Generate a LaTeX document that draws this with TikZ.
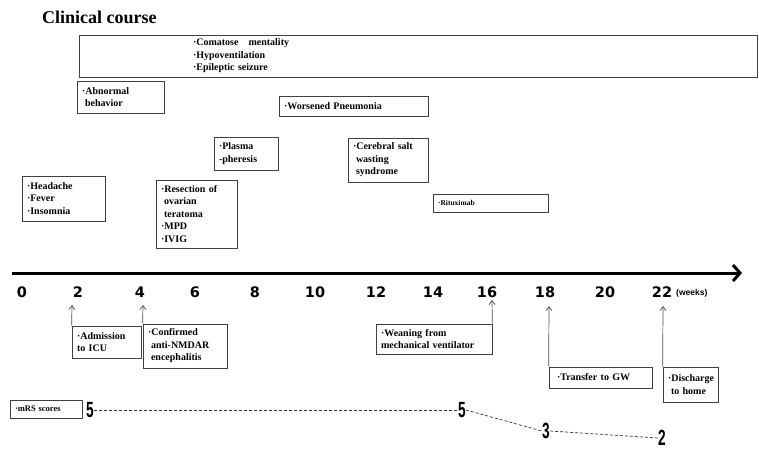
\documentclass[tikz,border=0pt]{standalone}
\usepackage{fontspec}
\usepackage{graphicx}
\setmainfont{Liberation Serif}
\newfontfamily\numfont{DejaVu Sans}
\newfontfamily\arialfont{Liberation Sans}
\usetikzlibrary{arrows.meta}
\tikzset{
  box/.style={draw, line width=0.7pt, draw=black!75, inner xsep=5pt, inner ysep=0pt, align=left,
    font=\bfseries\fontsize{10}{12.5}\selectfont},
  tick/.style={font=\numfont\bfseries\fontsize{14.5}{15}\selectfont, inner sep=0pt},
  mrs/.style={font=\arialfont\bfseries\fontsize{22}{22}\selectfont, inner sep=0pt},
  up/.style={draw=black!70, line width=0.7pt, -{Straight Barb[length=4pt,width=6pt]}},
  mline/.style={densely dashed, line width=0.7pt, draw=black!80},
}
\begin{document}
\begin{tikzpicture}[x=1pt,y=-1pt]
\useasboundingbox (0,0) rectangle (759,451);
\node[anchor=west, inner sep=0pt, font=\bfseries\fontsize{18}{20}\selectfont] (title) at (42,17) {Clinical course};

% boxes above axis
\node[box, minimum width=678, minimum height=42, text width=450, inner xsep=114pt] (sym) at (418,56)
  {·Comatose\ \ \ mentality\\·Hypoventilation\\·Epileptic seizure};
\node[box, minimum width=87, minimum height=32, text width=77] (abn) at (120.5,97)
  {·Abnormal\\\hspace*{3pt}behavior};
\node[box, minimum width=149, minimum height=20, text width=139] (pneu) at (353.5,106)
  {·Worsened Pneumonia};
\node[box, minimum width=64, minimum height=33, text width=54] (plas) at (246,153.5)
  {·Plasma\\-pheresis};
\node[box, minimum width=83, minimum height=45, text width=73] (head) at (63.5,198.5)
  {·Headache\\·Fever\\·Insomnia};
\node[box, minimum width=81, minimum height=68, text width=71] (resec) at (196.5,214)
  {·Resection of\\\hspace*{3pt}ovarian\\\hspace*{3pt}teratoma\\·MPD\\·IVIG};
\node[box, minimum width=80, minimum height=44, text width=70] (csw) at (388,160)
  {·Cerebral salt\\\hspace*{3pt}wasting\\\hspace*{3pt}syndrome};
\node[box, minimum width=115, minimum height=18, text width=105, font=\bfseries\fontsize{7.5}{8}\selectfont] (ritu) at (490.5,203)
  {·Rituximab};

% axis
\coordinate (ax0) at (12,273);
\coordinate (ax1) at (742,273);
\draw[line width=3pt, -{Straight Barb[length=7pt,width=16pt,line width=3pt]}] (ax0) -- (ax1);

\node[tick] (t0) at (22,292) {0};
\node[tick] (t2) at (78,292) {2};
\node[tick] (t4) at (140,292) {4};
\node[tick] (t6) at (195,292) {6};
\node[tick] (t8) at (255,292) {8};
\node[tick] (t10) at (315,292) {10};
\node[tick] (t12) at (376,292) {12};
\node[tick] (t14) at (433,292) {14};
\node[tick] (t16) at (487,292) {16};
\node[tick] (t18) at (545,292) {18};
\node[tick] (t20) at (605,292) {20};
\node[tick] (t22) at (662,292) {22};
\node[anchor=west, inner sep=0pt, font=\arialfont\bfseries\fontsize{8.5}{10}\selectfont] (wk) at (676,293) {(weeks)};

% boxes below axis
\node[box, minimum width=69, minimum height=32, text width=59] (adm) at (106.5,342)
  {·Admission\\to ICU};
\node[box, minimum width=84, minimum height=44, text width=74] (conf) at (185,346)
  {·Confirmed\\\hspace*{3pt}anti-NMDAR\\\hspace*{3pt}encephalitis};
\node[box, minimum width=116, minimum height=30, text width=106] (wean) at (434,339)
  {·Weaning from\\mechanical ventilator};
\node[box, minimum width=103, minimum height=21, text width=93] (gw) at (600.5,377.5)
  {\hspace*{3pt}·Transfer to GW};
\node[box, minimum width=55, minimum height=35, text width=45] (dis) at (690.5,384.5)
  {·Discharge\\\hspace*{3pt}to home};

\coordinate (a2) at (72,305);
\coordinate (a4) at (143,305);
\coordinate (a16) at (492,300);
\coordinate (a18) at (549,306);
\coordinate (a22) at (663,306);
\draw[up] (adm.north west) -- (a2);
\draw[up] (conf.north west) -- (a4);
\draw[up] (wean.north east) -- (a16);
\draw[up] (gw.north west) -- (a18);
\draw[up] (dis.north west) -- (a22);

% mRS
\node[box, minimum width=72, minimum height=18, text width=62, font=\bfseries\fontsize{8.5}{9}\selectfont] (mrsbox) at (46,409)
  {·mRS scores};
\node[mrs] (m1) at (90,410) {\scalebox{0.62}[1]{5}};
\node[mrs] (m2) at (462,410) {\scalebox{0.62}[1]{5}};
\node[mrs] (m3) at (546,431) {\scalebox{0.62}[1]{3}};
\node[mrs] (m4) at (662,438) {\scalebox{0.62}[1]{2}};
\draw[mline] (m1.east) -- (m2.west);
\draw[mline] (m2.east) -- (m3.west);
\draw[mline] (m3.east) -- (m4.west);
\end{tikzpicture}
\end{document}
